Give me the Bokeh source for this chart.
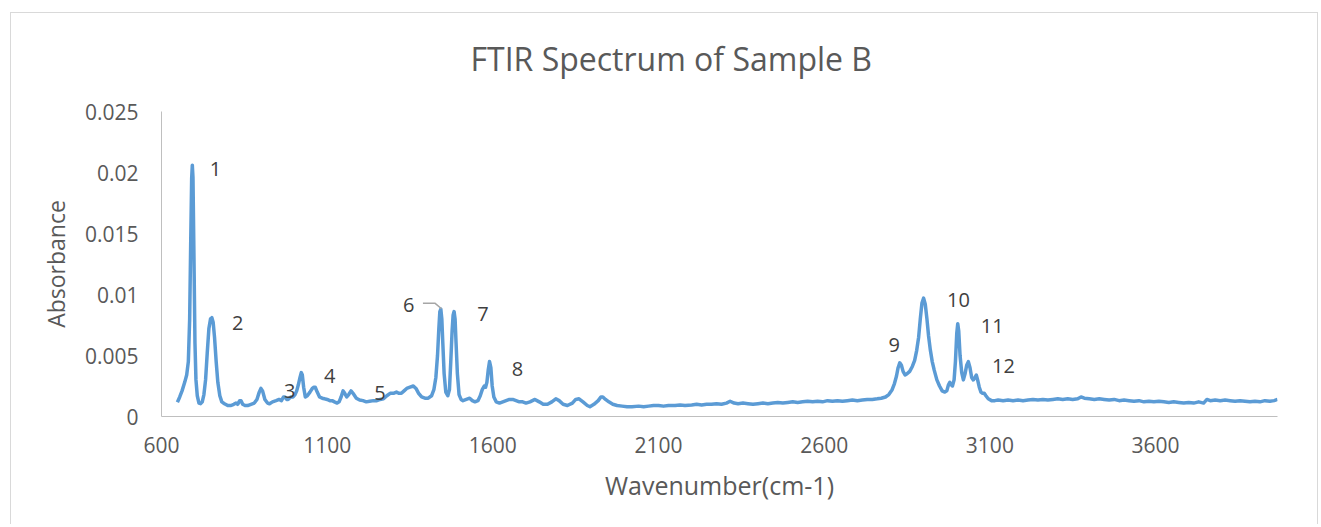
from bokeh.plotting import figure
from bokeh.models import Range1d, FixedTicker, CustomJSTickFormatter, ColumnDataSource
from bokeh.core.properties import value
from bokeh.embed import file_html
from bokeh.resources import INLINE

# ---- data ----
wavenumber = [
    648, 655, 662, 670, 676, 681, 685, 688, 691, 693, 695, 698, 701, 704, 708, 713, 718,
    723, 728, 733, 738, 743, 748, 752, 756, 760, 765, 770, 776, 782, 790, 800, 810, 818,
    825, 830, 836, 840, 845, 852, 860, 870, 880, 888, 895, 900, 905, 912, 920, 926, 935,
    946, 955, 962, 968, 972, 978, 982, 990, 997, 1003, 1008, 1013, 1018, 1022, 1025, 1029,
    1034, 1040, 1048, 1055, 1060, 1064, 1070, 1077, 1085, 1092, 1100, 1108, 1115, 1122,
    1130, 1136, 1142, 1148, 1153, 1159, 1165, 1172, 1178, 1188, 1198, 1208, 1218, 1228,
    1240, 1250, 1260, 1270, 1280, 1290, 1300, 1309, 1316, 1324, 1332, 1340, 1350, 1360,
    1368, 1376, 1385, 1395, 1405, 1415, 1422, 1428, 1433, 1437, 1440, 1443, 1446, 1449,
    1453, 1458, 1464, 1469, 1473, 1477, 1480, 1483, 1486, 1489, 1493, 1498, 1504, 1510,
    1520, 1530, 1538, 1546, 1555, 1562, 1568, 1574, 1578, 1582, 1586, 1590, 1594, 1598,
    1603, 1610, 1620, 1630, 1640, 1650, 1660, 1670, 1680, 1690, 1700, 1712, 1727, 1740,
    1752, 1765, 1778, 1790, 1800, 1812, 1825, 1840, 1850, 1860, 1872, 1885, 1893, 1905,
    1918, 1926, 1932, 1940, 1950, 1962, 1975, 1990, 2005, 2020, 2040, 2055, 2070, 2085,
    2100, 2115, 2130, 2150, 2165, 2180, 2200, 2215, 2230, 2245, 2260, 2275, 2290, 2305,
    2316, 2328, 2340, 2355, 2370, 2385, 2400, 2415, 2430, 2445, 2460, 2475, 2490, 2505,
    2520, 2535, 2550, 2565, 2580, 2595, 2610, 2625, 2640, 2655, 2670, 2685, 2700, 2715,
    2730, 2745, 2760, 2772, 2785, 2795, 2805, 2812, 2818, 2823, 2828, 2833, 2838, 2844,
    2850, 2858, 2866, 2873, 2879, 2885, 2890, 2895, 2900, 2905, 2910, 2915, 2920, 2926,
    2932, 2940, 2948, 2956, 2964, 2970, 2975, 2979, 2983, 2987, 2992, 2996, 3000, 3003,
    3006, 3010, 3015, 3020, 3025, 3030, 3035, 3040, 3045, 3050, 3055, 3059, 3063, 3068,
    3073, 3078, 3083, 3088, 3095, 3105, 3115, 3125, 3140, 3155, 3170, 3185, 3200, 3215,
    3230, 3245, 3260, 3275, 3290, 3305, 3320, 3335, 3350, 3365, 3375, 3385, 3400, 3415,
    3430, 3445, 3460, 3475, 3490, 3505, 3520, 3535, 3550, 3565, 3580, 3595, 3610, 3625,
    3640, 3655, 3670, 3685, 3700, 3715, 3730, 3745, 3755, 3765, 3780, 3795, 3810, 3825,
    3840, 3855, 3870, 3885, 3900, 3915, 3930, 3945, 3958, 3968,
]
absorbance = [
    0.00117, 0.0016, 0.0021, 0.0028, 0.0034, 0.0045, 0.0080, 0.0140, 0.0195, 0.0206,
    0.0196, 0.0130, 0.0060, 0.0030, 0.0017, 0.0011, 0.00105, 0.0012, 0.0018, 0.0030,
    0.0052, 0.0072, 0.0080, 0.0081, 0.0077, 0.0065, 0.0045, 0.0028, 0.0017, 0.0012,
    0.00105, 0.0009, 0.0009, 0.0010, 0.0011, 0.0010, 0.0013, 0.0013, 0.0010, 0.0009,
    0.0009, 0.0010, 0.0011, 0.0014, 0.0020, 0.0023, 0.0021, 0.0014, 0.0011, 0.00104,
    0.0012, 0.0013, 0.0014, 0.0013, 0.0016, 0.0016, 0.0014, 0.0014, 0.0016, 0.0016,
    0.0018, 0.0021, 0.0026, 0.0032, 0.0036, 0.0034, 0.0024, 0.0016, 0.0017, 0.0020,
    0.0023, 0.0024, 0.0024, 0.0020, 0.0016, 0.0015, 0.00145, 0.0014, 0.0013, 0.0013,
    0.0012, 0.0011, 0.0012, 0.0016, 0.0021, 0.0019, 0.0016, 0.0018, 0.0021, 0.0019,
    0.0015, 0.00135, 0.0013, 0.0012, 0.00125, 0.0013, 0.0013, 0.0014, 0.00145, 0.0017,
    0.0019, 0.0019, 0.0020, 0.0019, 0.0019, 0.0021, 0.0023, 0.0024, 0.0025, 0.0023,
    0.0019, 0.0016, 0.0015, 0.0015, 0.0017, 0.0022, 0.0032, 0.0050, 0.0072, 0.0086,
    0.0088, 0.0080, 0.0060, 0.0035, 0.0020, 0.0017, 0.0022, 0.0045, 0.0070, 0.0083,
    0.0086, 0.0080, 0.0060, 0.0035, 0.0018, 0.0014, 0.0013, 0.0014, 0.0015, 0.0013,
    0.0012, 0.0013, 0.0017, 0.0022, 0.0025, 0.0024, 0.0028, 0.0038, 0.0045, 0.0040,
    0.0025, 0.0016, 0.0012, 0.0011, 0.0012, 0.0013, 0.0014, 0.0014, 0.0013, 0.0012,
    0.0012, 0.0011, 0.0012, 0.0014, 0.0012, 0.0010, 0.0010, 0.0012, 0.00145, 0.0013,
    0.0010, 0.0009, 0.0011, 0.0014, 0.00145, 0.0012, 0.0009, 0.0008, 0.0010, 0.0013,
    0.0016, 0.0016, 0.0014, 0.0012, 0.0010, 0.0009, 0.00085, 0.0008, 0.0008, 0.00085,
    0.0008, 0.00085, 0.0009, 0.0009, 0.00085, 0.0009, 0.0009, 0.00095, 0.0009, 0.00095,
    0.0010, 0.00095, 0.0010, 0.0010, 0.00105, 0.0010, 0.0011, 0.00125, 0.0011, 0.00105,
    0.0011, 0.00105, 0.0010, 0.00105, 0.0011, 0.00105, 0.0011, 0.00115, 0.0011, 0.00115,
    0.0012, 0.00115, 0.0012, 0.00125, 0.0012, 0.00125, 0.0012, 0.0013, 0.00125, 0.0013,
    0.00125, 0.0013, 0.00135, 0.0013, 0.00135, 0.0014, 0.0014, 0.00145, 0.0015, 0.0016,
    0.0018, 0.0022, 0.0027, 0.0033, 0.0040, 0.0044, 0.0042, 0.0037, 0.0034, 0.0035,
    0.0037, 0.0041, 0.0046, 0.0054, 0.0065, 0.0080, 0.0093, 0.0097, 0.0092, 0.0080,
    0.0066, 0.0055, 0.0045, 0.0038, 0.0030, 0.0025, 0.0021, 0.0020, 0.0021, 0.0026,
    0.0028, 0.0026, 0.0025, 0.0030, 0.0045, 0.0068, 0.0076, 0.0070, 0.0050, 0.0036,
    0.0030, 0.0035, 0.0042, 0.0045, 0.0040, 0.0032, 0.0030, 0.0032, 0.0034, 0.0030,
    0.0024, 0.0020, 0.0019, 0.0019, 0.0017, 0.00145, 0.0013, 0.0013, 0.00135, 0.0013,
    0.00135, 0.0013, 0.00135, 0.0013, 0.00135, 0.0014, 0.00135, 0.0014, 0.00135, 0.0014,
    0.00145, 0.0014, 0.00145, 0.0014, 0.00145, 0.0016, 0.0015, 0.00145, 0.0014, 0.00145,
    0.0014, 0.00135, 0.0014, 0.0013, 0.00135, 0.0013, 0.00125, 0.0013, 0.0012, 0.00125,
    0.0012, 0.00125, 0.0012, 0.00115, 0.0012, 0.00115, 0.0011, 0.00115, 0.0011, 0.0012,
    0.0011, 0.0014, 0.0013, 0.00135, 0.0013, 0.00135, 0.0013, 0.00125, 0.0013, 0.00125,
    0.0012, 0.00125, 0.0012, 0.0013, 0.00125, 0.0013, 0.0014,
]

x_ticks = [600, 1100, 1600, 2100, 2600, 3100, 3600]
y_ticks = [0, 0.005, 0.01, 0.015, 0.02, 0.025]

# peak-number labels (centre of each label, in data units)
label_text = ["1", "2", "3", "4", "5", "6", "7", "8", "9", "10", "11", "12"]
label_x = [763, 830, 987, 1108, 1259, 1346, 1570, 1674, 2811, 3005, 3107, 3141]
label_y = [0.02025, 0.0077, 0.00213, 0.00336, 0.00189, 0.00918, 0.00844, 0.00393,
           0.00582, 0.00959, 0.00738, 0.0041]

# leader line of label 6
leader_x = [1389, 1425, 1445]
leader_y = [0.00929, 0.00929, 0.00883]

FONT = "Open Sans"
GREY = "#595959"
EDGE = "linear-gradient(#d9d9d9, #d9d9d9)"

p = figure(width=1308, height=524, output_backend="svg", toolbar_location=None,
           x_range=Range1d(600, 3968), y_range=Range1d(0, 0.025),
           min_border_left=151, min_border_right=41, min_border_top=111,
           min_border_bottom=108, title="FTIR Spectrum of Sample B")
# chart-area frame (thin grey lines at top, left and right), drawn behind a transparent canvas
p.styles = {"margin-left": "10px", "margin-top": "0px",
            "background-color": "white",
            "background-image": f"{EDGE}, {EDGE}, {EDGE}",
            "background-repeat": "no-repeat",
            "background-size": "100% 1px, 1px 100%, 1px 100%",
            "background-position": "0 12px, 0 12px, 100% 12px"}
p.border_fill_color = None
p.background_fill_color = None

p.title.align = "left"
p.title.offset = 309
p.title.text_font = FONT
p.title.text_font_size = "32px"
p.title.text_font_style = "normal"
p.title.text_color = GREY
p.title.standoff = 64

p.xgrid.visible = False
p.ygrid.visible = False
p.outline_line_color = None

fmt = "return tick.toString();"
for ax, ticks, standoff in ((p.xaxis[0], x_ticks, 20), (p.yaxis[0], y_ticks, 23)):
    ax.ticker = FixedTicker(ticks=ticks)
    ax.formatter = CustomJSTickFormatter(code=fmt)
    ax.major_tick_in = 0
    ax.major_tick_out = 0
    ax.minor_tick_in = 0
    ax.minor_tick_out = 0
    ax.axis_line_color = "#bfbfbf"
    ax.axis_line_width = 1
    ax.major_label_text_font = FONT
    ax.major_label_text_font_size = "21px"
    ax.major_label_text_color = GREY
    ax.major_label_standoff = standoff
    ax.axis_label_text_font = FONT
    ax.axis_label_text_font_style = "normal"
    ax.axis_label_text_color = GREY

p.xaxis.axis_label = "Wavenumber(cm-1)"
p.xaxis.axis_label_text_font_size = "25px"
p.xaxis.axis_label_standoff = 12
p.yaxis.axis_label = "Absorbance"
p.yaxis.axis_label_text_font_size = "23px"
p.yaxis.axis_label_standoff = 10
p.yaxis.major_label_orientation = "horizontal"

src = ColumnDataSource(dict(x=wavenumber, y=absorbance))
p.line("x", "y", source=src, line_color="#5b9bd5", line_width=3.5, line_join="round")

p.line(leader_x, leader_y, line_color="#a6a6a6", line_width=1.5)

lab = ColumnDataSource(dict(x=label_x, y=label_y, t=label_text))
p.text("x", "y", text="t", source=lab, text_font=value(FONT), text_font_size=value("20px"),
       text_color="#404040", text_align="center", text_baseline="middle")

open("out.html", "w").write(file_html(p, INLINE))
